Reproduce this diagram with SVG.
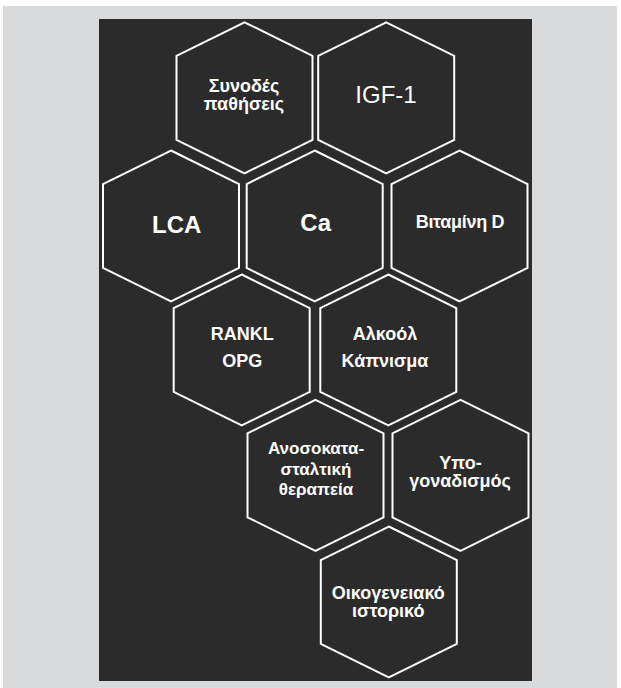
<svg xmlns="http://www.w3.org/2000/svg" xmlns:xlink="http://www.w3.org/1999/xlink" width="621" height="688" viewBox="0 0 621 688">
  <style>
    .hex { fill: #2b2b2b; stroke: #ffffff; stroke-width: 2; stroke-linejoin: miter; }
    .t { font-family: "Liberation Sans", Arial, "DejaVu Sans", sans-serif; fill: #ffffff; text-anchor: middle; font-weight: bold; }
    .s18 { font-size: 18px; }
    .s17 { font-size: 17px; }
    .s24 { font-size: 24px; }
    .reg { font-weight: normal; }
  </style>
  <defs>
    <polygon id="hexshape" points="0,-75.5 68,-42 68,42 0,75.5 -68,42 -68,-42"/>
  </defs>
  <rect x="0" y="0" width="621" height="688" fill="#ffffff"/>
  <rect x="3" y="6" width="614" height="682" fill="#d9dadb"/>
  <rect x="99" y="19" width="433" height="662" fill="#2b2b2b"/>

  <g id="connectors"></g>

  <g id="n1">
    <use xlink:href="#hexshape" href="#hexshape" class="hex" x="244.5" y="97.8"/>
    <text class="t s18" x="244" y="92.3">Συνοδές</text>
    <text class="t s18" x="244" y="110.3">παθήσεις</text>
  </g>
  <g id="n2">
    <use xlink:href="#hexshape" href="#hexshape" class="hex" x="386.2" y="97.8"/>
    <text class="t s24 reg" x="386" y="103.3">IGF-1</text>
  </g>
  <g id="n3">
    <use xlink:href="#hexshape" href="#hexshape" class="hex" x="171" y="226"/>
    <text class="t s24" x="176.7" y="233.3">LCA</text>
  </g>
  <g id="n4">
    <use xlink:href="#hexshape" href="#hexshape" class="hex" x="314.7" y="226"/>
    <text class="t s24" x="315.7" y="230.7">Ca</text>
  </g>
  <g id="n5">
    <use xlink:href="#hexshape" href="#hexshape" class="hex" x="459.5" y="226"/>
    <text class="t s18" x="460" y="228.3" letter-spacing="-0.3">Βιταμίνη D</text>
  </g>
  <g id="n6">
    <use xlink:href="#hexshape" href="#hexshape" class="hex" x="241.7" y="350"/>
    <text class="t s18" x="242.3" y="339.5">RANKL</text>
    <text class="t s18" x="242.3" y="366.5">OPG</text>
  </g>
  <g id="n7">
    <use xlink:href="#hexshape" href="#hexshape" class="hex" x="388.3" y="350"/>
    <text class="t s18" x="385" y="339.5">Αλκοόλ</text>
    <text class="t s18" x="385" y="366.5">Κάπνισμα</text>
  </g>
  <g id="n8">
    <use xlink:href="#hexshape" href="#hexshape" class="hex" x="315.5" y="475.3"/>
    <text class="t s17" x="316" y="454.3">Ανοσοκατα-</text>
    <text class="t s17" x="316" y="474.5">σταλτική</text>
    <text class="t s17" x="316" y="494.5">θεραπεία</text>
  </g>
  <g id="n9">
    <use xlink:href="#hexshape" href="#hexshape" class="hex" x="460.5" y="475.3"/>
    <text class="t s18" x="460.5" y="469">Υπο-</text>
    <text class="t s18" x="460" y="487">γοναδισμός</text>
  </g>
  <g id="n10">
    <use xlink:href="#hexshape" href="#hexshape" class="hex" x="388.8" y="602"/>
    <text class="t s18" x="388.3" y="599">Οικογενειακό</text>
    <text class="t s18" x="388.3" y="616.5">ιστορικό</text>
  </g>
</svg>
